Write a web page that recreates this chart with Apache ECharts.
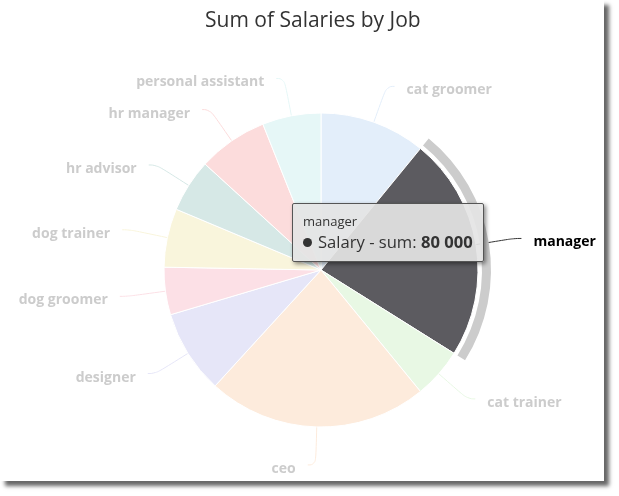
<!DOCTYPE html>
<html><head><meta charset="utf-8">
<script src="https://cdn.jsdelivr.net/npm/echarts@6/dist/echarts.min.js"></script>
<style>
html,body{margin:0;padding:0;background:#fff;}
#frame{position:absolute;left:0;top:0;width:604px;height:481px;background:#fff;box-shadow:5px 5px 4px rgba(0,0,0,0.6);}
#chart{position:absolute;left:0;top:0;width:619px;height:496px;}
</style></head><body>
<div id="frame"></div><div id="chart"></div>
<script>
// ---- data ----
const titleText = 'Sum of Salaries by Job';
const seriesName = 'Salary - sum';
const jobs = ['cat groomer','manager','cat trainer','ceo','designer','dog groomer','dog trainer','hr advisor','hr manager','personal assistant'];
const salaries = [38000,80000,18000,79000,30000,17000,21000,19000,25000,21000];
const highlightedJob = 'manager';

// ---- styles ----
const palette = ['#e3eefa','#5c5b60','#e8f8e4','#fdebdc','#e6e6f8','#fce0e6','#f9f5dc','#d6e8e6','#fcdcdc','#e6f7f7'];
const FONT = 'Open Sans';

function fmt(v){ return String(v).replace(/\B(?=(\d{3})+(?!\d))/g,' '); }

const hiIdx = jobs.indexOf(highlightedJob);

const pieData = jobs.map((j,i)=>{
  const d = {name:j, value:salaries[i], itemStyle:{color:palette[i]}};
  if(i===hiIdx){
    d.label = {color:'#000'};
    d.labelLine = {lineStyle:{color:'#333'}};
  }
  return d;
});
const ringData = jobs.map((j,i)=>({name:j, value:salaries[i], itemStyle:{color: i===hiIdx ? '#cccccc' : 'rgba(0,0,0,0)'}}));

const chart = echarts.init(document.getElementById('chart'), null, {renderer:'canvas'});
chart.setOption({
  animation:false,
  backgroundColor:'transparent',
  title:{text:titleText, left:200, top:6, textStyle:{fontFamily:FONT, fontSize:21, fontWeight:'normal', color:'#333'}},
  tooltip:{
    trigger:'item', triggerOn:'none', alwaysShowContent:true,
    position:function(){ return [292,203]; },
    backgroundColor:'rgba(228,228,228,0.92)', borderColor:'#555', borderWidth:1, padding:[7,10,8,10],
    extraCssText:'box-shadow:2px 2px 4px rgba(0,0,0,0.45);border-radius:2px;',
    formatter:function(p){
      return '<div style="font-family:\'Open Sans\';font-size:13px;color:#333;line-height:20px">'+p.name+'</div>'+
        '<div style="font-family:\'Open Sans\';font-size:16.6px;color:#333;line-height:22px">'+
        '<span style="display:inline-block;width:9px;height:9px;border-radius:50%;background:#333;margin-right:6px;vertical-align:1px"></span>'+
        p.seriesName+': <b>'+fmt(p.value)+'</b></div>';
    }
  },
  series:[
    {
      type:'pie', name:seriesName, center:[321,270], radius:[0,157], startAngle:90, clockwise:true,
      avoidLabelOverlap:true,
      itemStyle:{borderColor:'#fff', borderWidth:1},
      emphasis:{disabled:true},
      label:{show:true, color:'#cccccc', fontFamily:FONT, fontSize:14, fontWeight:'bold', distanceToLabelLine:12, offset:[0,4], overflow:'none'},
      labelLine:{show:true, length:38, length2:8, smooth:0.5, lineStyle:{width:1}},
      data:pieData
    },
    {
      type:'pie', silent:true, center:[321,270], radius:[161,170], startAngle:90, clockwise:true,
      itemStyle:{borderWidth:0},
      label:{show:false}, labelLine:{show:false},
      tooltip:{show:false},
      data:ringData
    }
  ]
});
chart.dispatchAction({type:'showTip', seriesIndex:0, dataIndex:hiIdx});
</script>
</body></html>
